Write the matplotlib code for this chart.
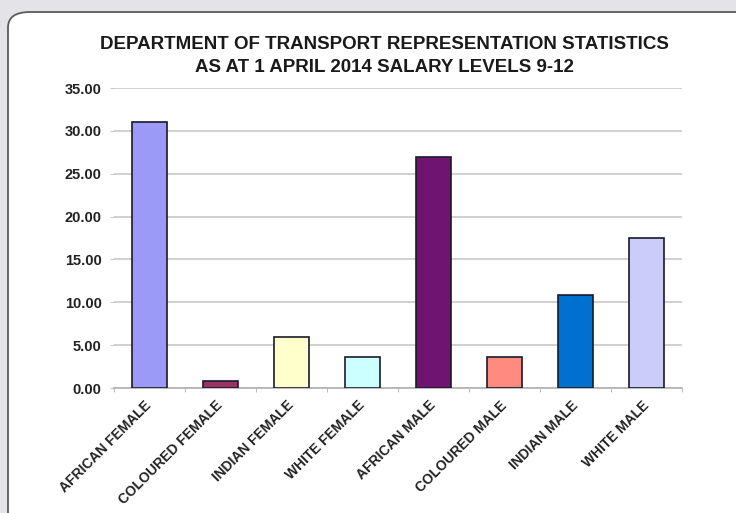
import matplotlib
matplotlib.use("Agg")
import matplotlib.pyplot as plt
from matplotlib.patches import FancyBboxPatch
from matplotlib.ticker import FuncFormatter, MultipleLocator, FixedLocator

categories = ["AFRICAN FEMALE", "COLOURED FEMALE", "INDIAN FEMALE", "WHITE FEMALE",
              "AFRICAN MALE", "COLOURED MALE", "INDIAN MALE", "WHITE MALE"]
values = [31.0, 0.8, 6.0, 3.6, 27.0, 3.6, 10.8, 17.5]
colors = ["#9b9bf7", "#993366", "#ffffcc", "#ccffff", "#6f1470", "#ff8a80", "#0070d0", "#ccccfa"]
title = "DEPARTMENT OF TRANSPORT REPRESENTATION STATISTICS\nAS AT 1 APRIL 2014 SALARY LEVELS 9-12"

plt.rcParams['font.family'] = ['Liberation Sans', 'DejaVu Sans']

fig = plt.figure(figsize=(7.36, 5.13), dpi=100)
fig.patch.set_facecolor("#e4e4e8")

box = FancyBboxPatch((8 / 736, -0.2), 1.2, 0.2 + (1 - 12 / 513),
                     boxstyle="round,pad=0,rounding_size=0.03",
                     transform=fig.transFigure, facecolor="white",
                     edgecolor="#5a5a5a", linewidth=1.3, zorder=-5)
fig.patches.append(box)

ax = fig.add_axes([114 / 736, 1 - 388 / 513, (682 - 114) / 736, (388 - 88) / 513])
ax.set_facecolor("none")
ax.set_zorder(1)

x = list(range(len(categories)))
ax.bar(x, values, width=0.5, color=colors, edgecolor="#1a1a2a", linewidth=1.2, zorder=3)

ax.set_xlim(-0.5, len(categories) - 0.5)
ax.set_ylim(0, 35)
ax.yaxis.set_major_locator(MultipleLocator(5))
ax.yaxis.set_major_formatter(FuncFormatter(lambda v, p: f"{v:.2f}"))
ax.grid(axis="y", color="#c8c8c8", linewidth=1.2, zorder=0)

for s in ["top", "right", "left"]:
    ax.spines[s].set_visible(False)
ax.spines["bottom"].set_color("#b0b0b0")
ax.spines["bottom"].set_linewidth(1.2)

ax.set_xticks(x)
ax.set_xticklabels(categories, rotation=45, ha="right", va="center", rotation_mode="anchor",
                   fontsize=10, fontweight="bold", color="#222222")
ax.tick_params(axis="x", which="major", length=0, pad=11)
ax.xaxis.set_minor_locator(FixedLocator([i + 0.5 for i in range(-1, len(categories))]))
ax.tick_params(axis="x", which="minor", length=3, color="#b0b0b0")
ax.tick_params(axis="y", length=3, color="#c8c8c8", labelsize=10.5, pad=6)
for lab in ax.get_yticklabels():
    lab.set_fontweight("bold")
    lab.set_color("#222222")

fig.text(0.523, 1 - 56 / 513, title, ha="center", va="center", fontsize=13.5,
         fontweight="bold", color="#1a1a1a", linespacing=1.45)

fig.savefig("out.png", dpi=100, facecolor=fig.get_facecolor())
